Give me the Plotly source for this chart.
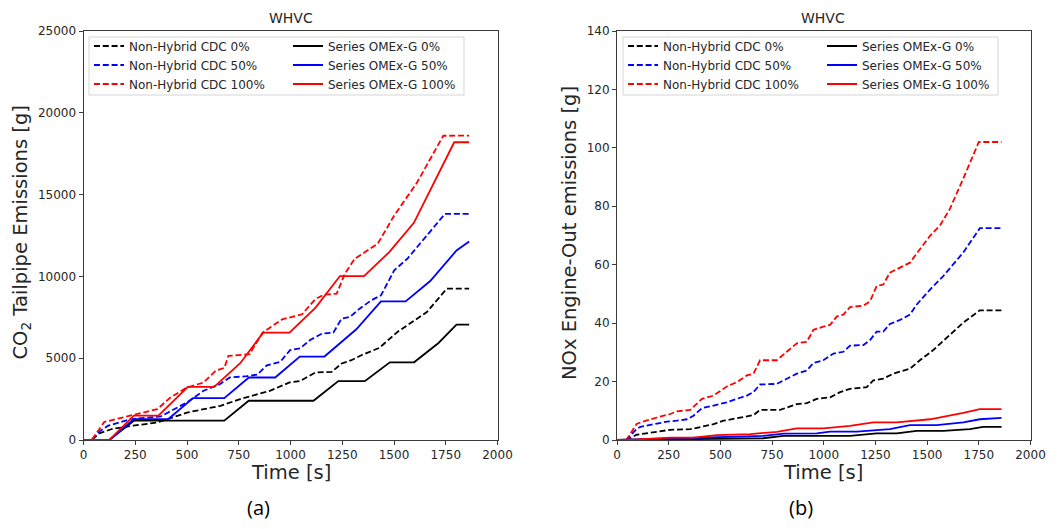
import plotly.graph_objects as go

W, H = 1061, 529
OFF = 8                      # default page body margin of the html page
FW, FH = W - 2 * OFF, H - 2 * OFF

# ---------------- CO2 tailpipe data (panel a) ----------------
t_co2_cdc0 = [0, 40, 75, 137, 240, 359, 504, 662, 757, 900, 995, 1046, 1120, 1199, 1247, 1294, 1342, 1429, 1517, 1659, 1755, 1863]
co2_cdc0 = [0, 0, 400, 671, 874, 1077, 1687, 2093, 2500, 3008, 3516, 3600, 4126, 4167, 4675, 4878, 5183, 5630, 6606, 7825, 9248, 9248]

t_co2_cdc50 = [0, 40, 75, 119, 230, 373, 500, 580, 659, 707, 790, 840, 886, 950, 998, 1046, 1095, 1152, 1207, 1247, 1287, 1334, 1390, 1437, 1501, 1564, 1659, 1746, 1863]
co2_cdc50 = [0, 0, 500, 874, 1280, 1443, 2297, 3008, 3415, 3821, 3900, 4000, 4568, 4774, 5494, 5597, 6111, 6504, 6565, 7419, 7520, 8028, 8537, 8841, 10366, 11077, 12500, 13821, 13821]

t_co2_cdc100 = [0, 40, 100, 230, 357, 420, 500, 580, 640, 680, 700, 802, 865, 960, 1056, 1119, 1160, 1223, 1263, 1310, 1358, 1421, 1501, 1612, 1738, 1863]
co2_cdc100 = [0, 0, 1100, 1484, 1890, 2600, 3211, 3516, 4250, 4400, 5142, 5244, 6565, 7378, 7683, 8600, 8882, 8943, 10163, 11077, 11484, 11992, 13720, 15752, 18598, 18600]

t_co2_omx0 = [0, 125, 243, 680, 798, 1111, 1231, 1359, 1480, 1597, 1715, 1802, 1863]
co2_omx0 = [0, 0, 1179, 1179, 2400, 2400, 3600, 3600, 4750, 4750, 5930, 7050, 7050]

t_co2_omx50 = [0, 125, 243, 410, 529, 680, 799, 926, 1045, 1164, 1318, 1437, 1556, 1675, 1802, 1863]
co2_omx50 = [0, 0, 1280, 1280, 2561, 2561, 3821, 3821, 5102, 5102, 6768, 8476, 8476, 9715, 11585, 12134]

t_co2_omx100 = [0, 125, 243, 362, 504, 631, 757, 868, 995, 1121, 1239, 1355, 1477, 1596, 1791, 1863]
co2_omx100 = [0, 0, 1484, 1484, 3252, 3252, 4695, 6565, 6565, 8089, 10020, 10020, 11484, 13272, 18200, 18200]

# ---------------- NOx engine-out data (panel b) ----------------
t_nox_cdc0 = [0, 45, 95, 113, 193, 258, 354, 419, 467, 515, 596, 660, 692, 789, 870, 918, 966, 1031, 1079, 1127, 1208, 1240, 1288, 1336, 1417, 1465, 1530, 1610, 1675, 1755, 1860]
nox_cdc0 = [0, 0, 1.8, 2.0, 2.9, 3.5, 3.7, 4.8, 5.4, 6.6, 7.7, 8.5, 10.3, 10.3, 12.3, 12.6, 14.1, 14.6, 16.4, 17.5, 18.1, 20.4, 21.0, 22.7, 24.4, 27.3, 30.8, 35.9, 40.2, 44.4, 44.4]

t_nox_cdc50 = [0, 45, 95, 113, 193, 242, 290, 338, 370, 411, 467, 531, 580, 628, 660, 692, 773, 821, 870, 918, 950, 998, 1047, 1095, 1127, 1192, 1224, 1256, 1288, 1320, 1369, 1417, 1449, 1514, 1578, 1675, 1755, 1860]
nox_cdc50 = [0, 0, 3.8, 4.5, 5.6, 6.3, 6.6, 7.1, 8.3, 10.9, 11.8, 12.9, 14.1, 15.2, 16.4, 19.0, 19.2, 21.0, 22.7, 23.8, 26.4, 27.3, 29.6, 30.2, 32.3, 32.5, 34.2, 37.1, 37.1, 39.7, 41.1, 42.9, 46.3, 51.5, 56.1, 64.2, 72.5, 72.5]

t_nox_cdc100 = [0, 45, 95, 113, 193, 258, 290, 354, 411, 467, 531, 580, 628, 660, 692, 773, 821, 870, 918, 950, 998, 1031, 1063, 1095, 1127, 1192, 1224, 1256, 1288, 1320, 1369, 1417, 1465, 1514, 1562, 1610, 1675, 1750, 1860]
nox_cdc100 = [0, 0, 5.5, 6.0, 7.7, 8.9, 9.8, 10.3, 14.1, 15.2, 18.3, 19.8, 22.1, 22.7, 27.3, 27.3, 30.2, 33.1, 33.6, 37.7, 38.8, 39.4, 42.3, 42.9, 45.5, 46.0, 47.5, 52.7, 53.2, 57.3, 59.0, 60.7, 65.3, 69.9, 73.4, 79.1, 89.5, 102, 102]

t_nox_omx0 = [0, 258, 708, 805, 1127, 1256, 1353, 1449, 1578, 1707, 1771, 1860]
nox_omx0 = [0, 0.2, 0.6, 1.4, 1.4, 2.3, 2.3, 3.1, 3.1, 3.7, 4.5, 4.5]

t_nox_omx50 = [0, 258, 483, 708, 805, 966, 1031, 1160, 1320, 1417, 1546, 1675, 1755, 1860]
nox_omx50 = [0, 0.6, 1.0, 1.4, 2.2, 2.3, 2.9, 2.9, 3.7, 5.1, 5.1, 6.0, 7.1, 7.6]

t_nox_omx100 = [0, 97, 258, 370, 483, 644, 773, 870, 998, 1127, 1240, 1353, 1514, 1610, 1675, 1755, 1860]
nox_omx100 = [0, 0.2, 0.8, 0.8, 1.7, 2.0, 2.8, 4.0, 4.0, 4.8, 6.0, 6.0, 7.1, 8.3, 9.3, 10.6, 10.6]

names_cdc = ["Non-Hybrid CDC 0%", "Non-Hybrid CDC 50%", "Non-Hybrid CDC 100%"]
names_omx = ["Series OMEx-G 0%", "Series OMEx-G 50%", "Series OMEx-G 100%"]
colors = ["#000000", "#0000ff", "#ff0000"]

x_ticks = [0, 250, 500, 750, 1000, 1250, 1500, 1750, 2000]
y_ticks_co2 = [0, 5000, 10000, 15000, 20000, 25000]
y_ticks_nox = [0, 20, 40, 60, 80, 100, 120, 140]

FONT = "DejaVu Sans"
TXT = "#262626"
AX = "#3a3a3a"
DASH = "6px,2.8px"
LW = 1.8

fig = go.Figure()

panels = [
    ("x", "y", "legend", "legend2",
     [(t_co2_cdc0, co2_cdc0), (t_co2_cdc50, co2_cdc50), (t_co2_cdc100, co2_cdc100)],
     [(t_co2_omx0, co2_omx0), (t_co2_omx50, co2_omx50), (t_co2_omx100, co2_omx100)]),
    ("x2", "y2", "legend3", "legend4",
     [(t_nox_cdc0, nox_cdc0), (t_nox_cdc50, nox_cdc50), (t_nox_cdc100, nox_cdc100)],
     [(t_nox_omx0, nox_omx0), (t_nox_omx50, nox_omx50), (t_nox_omx100, nox_omx100)]),
]

for xa, ya, lg1, lg2, cdc, omx in panels:
    for (t, v), nm, c in zip(cdc, names_cdc, colors):
        fig.add_trace(go.Scatter(x=t, y=v, mode="lines", name=nm, xaxis=xa, yaxis=ya,
                                 legend=lg1, line=dict(color=c, width=LW, dash=DASH)))
    for (t, v), nm, c in zip(omx, names_omx, colors):
        fig.add_trace(go.Scatter(x=t, y=v, mode="lines", name=nm, xaxis=xa, yaxis=ya,
                                 legend=lg2, line=dict(color=c, width=LW)))

# convert window pixel positions (as in the reference) to paper fractions
def px_x(p):
    return (p - OFF) / FW

def px_y(p):
    return 1 - (p - OFF) / FH

axis_common = dict(showline=True, linecolor=AX, linewidth=1, mirror=True,
                   ticks="outside", ticklen=4, tickwidth=1, tickcolor=AX,
                   showgrid=False, zeroline=False, automargin=False, tickformat="d",
                   tickfont=dict(family=FONT, size=12, color=TXT))

ydom = [px_y(440), px_y(31)]
fig.update_layout(
    xaxis=dict(domain=[px_x(83.5), px_x(497.5)], range=[0, 2000], tickvals=x_ticks, anchor="y", **axis_common),
    yaxis=dict(domain=ydom, range=[0, 25000], tickvals=y_ticks_co2, anchor="x", **axis_common),
    xaxis2=dict(domain=[px_x(617), px_x(1030.5)], range=[0, 2000], tickvals=x_ticks, anchor="y2", **axis_common),
    yaxis2=dict(domain=ydom, range=[0, 140], tickvals=y_ticks_nox, anchor="x2", **axis_common),
)

leg_common = dict(orientation="v", xanchor="left", yanchor="top", bgcolor="rgba(0,0,0,0)",
                  borderwidth=0, font=dict(family=FONT, size=12, color=TXT),
                  tracegroupgap=0, itemwidth=30)
leg_top = px_y(31.5)
fig.update_layout(
    legend=dict(x=px_x(89), y=leg_top, **leg_common),
    legend2=dict(x=px_x(288), y=leg_top, **leg_common),
    legend3=dict(x=px_x(623), y=leg_top, **leg_common),
    legend4=dict(x=px_x(822), y=leg_top, **leg_common),
)

# legend frames
for x0, x1 in [(89, 464), (623, 998)]:
    fig.add_shape(type="rect", xref="paper", yref="paper",
                  x0=px_x(x0), x1=px_x(x1), y0=px_y(95), y1=px_y(37),
                  line=dict(color="#d5d5d5", width=1), fillcolor="rgba(255,255,255,0.8)", layer="below")

ann = []
def add_text(x, y, text, size, angle=0, family=FONT, color=TXT):
    ann.append(dict(x=px_x(x), y=px_y(y), xref="paper", yref="paper", text=text, showarrow=False,
                    xanchor="center", yanchor="middle", textangle=angle, borderpad=0,
                    font=dict(family=family, size=size, color=color)))

add_text(291, 18, "WHVC", 14)
add_text(823, 18, "WHVC", 14)
add_text(291, 472, "Time [s]", 19.5)
add_text(823, 472, "Time [s]", 19.5)
add_text(20.5, 233, "CO<sub>2</sub> Tailpipe Emissions [g]", 19.5, angle=-90)
add_text(569, 233, "NOx Engine-Out emissions [g]", 19.5, angle=-90)
add_text(258, 507, "(a)", 20, family="Open Sans", color="#000000")
add_text(801, 507, "(b)", 20, family="Open Sans", color="#000000")

fig.update_layout(
    annotations=ann,
    width=FW, height=FH,
    margin=dict(l=0, r=0, t=0, b=0),
    paper_bgcolor="white", plot_bgcolor="white",
    font=dict(family=FONT, size=12, color=TXT),
    showlegend=True,
)

fig.write_html("out.html")
